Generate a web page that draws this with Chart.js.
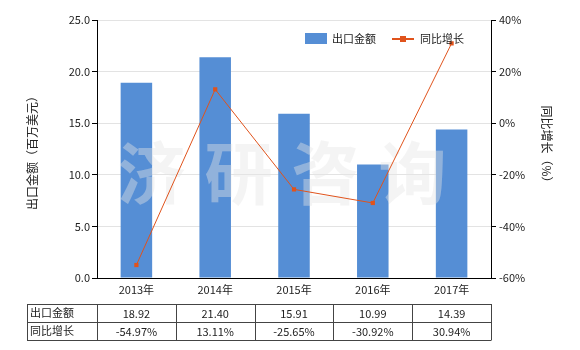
<!DOCTYPE html>
<html>
<head>
<meta charset="utf-8">
<script src="https://cdn.jsdelivr.net/npm/chart.js@4"></script>
<style>
  body { margin: 0; background: #fff; }
  #wrap { width: 580px; height: 350px; }
</style>
</head>
<body>
<div id="wrap"><canvas id="barLineChart" width="580" height="350"></canvas></div>
<script>
const years = ['2013年', '2014年', '2015年', '2016年', '2017年'];
const exportValue = [18.92, 21.40, 15.91, 10.99, 14.39];
const yoyGrowth = [-54.97, 13.11, -25.65, -30.92, 30.94];
const leftTicks = [0, 5, 10, 15, 20, 25];
const rightTicks = [-60, -40, -20, 0, 20, 40];

const FONT = "'Noto Sans CJK SC', 'Microsoft YaHei', sans-serif";
const BAR_COLOR = '#558ED5';
const LINE_COLOR = '#E0531C';

// watermark between bars and line, titles / legend / table on top
const extras = {
    id: 'extras',
    afterDatasetDraw(chart, args) {
        if (args.meta.type !== 'bar') return;
        const ctx = chart.ctx;
        const a = chart.chartArea;
        const chars = ['济', '研', '咨', '询'];
        ctx.save();
        ctx.font = 'bold 68px ' + FONT;
        ctx.fillStyle = 'rgba(228,228,228,0.42)';
        ctx.textAlign = 'center';
        ctx.textBaseline = 'middle';
        const cx = (a.left + a.right) / 2 - 12;
        chars.forEach((c, i) => {
            ctx.fillText(c, cx + (i - 1.5) * 87, a.top + 153);
        });
        ctx.restore();
    },
    afterDraw(chart) {
        const ctx = chart.ctx;
        const a = chart.chartArea;
        const x = chart.scales.x;
        ctx.save();

        // axis titles
        ctx.fillStyle = '#222';
        ctx.font = '12px ' + FONT;
        ctx.textAlign = 'center';
        ctx.textBaseline = 'middle';
        ctx.save();
        ctx.translate(32, 150);
        ctx.rotate(-Math.PI / 2);
        ctx.fillText('出口金额（百万美元）', 0, 0);
        ctx.restore();
        ctx.save();
        ctx.translate(547, 147);
        ctx.rotate(Math.PI / 2);
        ctx.fillText('同比增长（%）', 0, 0);
        ctx.restore();

        // legend
        ctx.font = '11px ' + FONT;
        ctx.textAlign = 'left';
        ctx.fillStyle = BAR_COLOR;
        ctx.fillRect(305, 33, 22, 11);
        ctx.fillStyle = '#222';
        ctx.fillText(chart.data.datasets[0].label, 332, 39);
        ctx.strokeStyle = LINE_COLOR;
        ctx.lineWidth = 2;
        ctx.beginPath();
        ctx.moveTo(392, 39);
        ctx.lineTo(414, 39);
        ctx.stroke();
        ctx.fillStyle = LINE_COLOR;
        ctx.fillRect(400, 36, 6, 6);
        ctx.fillStyle = '#222';
        ctx.fillText(chart.data.datasets[1].label, 420, 39);

        // data table
        const top = a.bottom + 26;
        const rowH = 18;
        const labelLeft = 27;
        const colW = (x.right - x.left) / years.length;
        ctx.strokeStyle = '#444';
        ctx.lineWidth = 1;
        ctx.beginPath();
        for (let r = 0; r <= 2; r++) {
            const y = Math.round(top + r * rowH) + 0.5;
            ctx.moveTo(labelLeft, y);
            ctx.lineTo(Math.round(x.right) + 0.5, y);
        }
        ctx.moveTo(labelLeft + 0.5, top);
        ctx.lineTo(labelLeft + 0.5, top + 2 * rowH);
        for (let i = 0; i <= years.length; i++) {
            const xx = Math.round(x.left + i * colW) + 0.5;
            ctx.moveTo(xx, top);
            ctx.lineTo(xx, top + 2 * rowH);
        }
        ctx.stroke();

        ctx.fillStyle = '#222';
        ctx.font = '11px ' + FONT;
        ctx.textBaseline = 'middle';
        ctx.textAlign = 'left';
        ctx.fillText('出口金额', labelLeft + 3, top + rowH / 2);
        ctx.fillText('同比增长', labelLeft + 3, top + rowH * 1.5);
        ctx.textAlign = 'center';
        years.forEach((y, i) => {
            const cx = x.getPixelForValue(i);
            ctx.fillText(exportValue[i].toFixed(2), cx, top + rowH / 2 + 1);
            ctx.fillText(yoyGrowth[i].toFixed(2) + '%', cx, top + rowH * 1.5 + 1);
        });
        ctx.restore();
    }
};

const CHART = document.getElementById('barLineChart');
let barLineChart = new Chart(CHART, {
    type: 'bar',
    data: {
        labels: years,
        datasets: [
            {
                type: 'bar',
                label: '出口金额',
                data: exportValue,
                backgroundColor: BAR_COLOR,
                barPercentage: 0.4,
                categoryPercentage: 1,
                yAxisID: 'y',
                order: 2
            },
            {
                type: 'line',
                label: '同比增长',
                data: yoyGrowth,
                borderColor: LINE_COLOR,
                backgroundColor: LINE_COLOR,
                borderWidth: 1,
                lineTension: 0,
                fill: false,
                pointStyle: 'rect',
                pointRadius: 3,
                pointBorderWidth: 0,
                yAxisID: 'y1',
                order: 1
            }
        ]
    },
    options: {
        responsive: false,
        animation: false,
        layout: { padding: { top: 20, bottom: 0, left: 0, right: 0 } },
        plugins: {
            legend: { display: false },
            tooltip: { enabled: false }
        },
        scales: {
            x: {
                offset: true,
                grid: { display: false, drawTicks: false },
                border: { color: '#000', width: 1 },
                ticks: { color: '#222', font: { size: 11, family: FONT }, padding: 5, maxRotation: 0 },
                afterFit(scale) { scale.height = 72; }
            },
            y: {
                position: 'left',
                min: 0,
                max: 25,
                afterBuildTicks(scale) { scale.ticks = leftTicks.map(v => ({ value: v })); },
                grid: { color: '#e3e3e3', tickColor: '#000', tickLength: 5 },
                border: { color: '#000', width: 1 },
                ticks: {
                    color: '#222',
                    font: { size: 11, family: FONT },
                    padding: 2,
                    callback: v => v.toFixed(1)
                },
                afterFit(scale) { scale.width = 97; }
            },
            y1: {
                position: 'right',
                min: -60,
                max: 40,
                afterBuildTicks(scale) { scale.ticks = rightTicks.map(v => ({ value: v })); },
                grid: { drawOnChartArea: false, tickColor: '#000', tickLength: 5 },
                border: { color: '#000', width: 1 },
                ticks: {
                    color: '#222',
                    font: { size: 11, family: FONT },
                    padding: 3,
                    callback: v => v + '%'
                },
                afterFit(scale) { scale.width = 89; }
            }
        }
    },
    plugins: [extras]
});
</script>
</body>
</html>
